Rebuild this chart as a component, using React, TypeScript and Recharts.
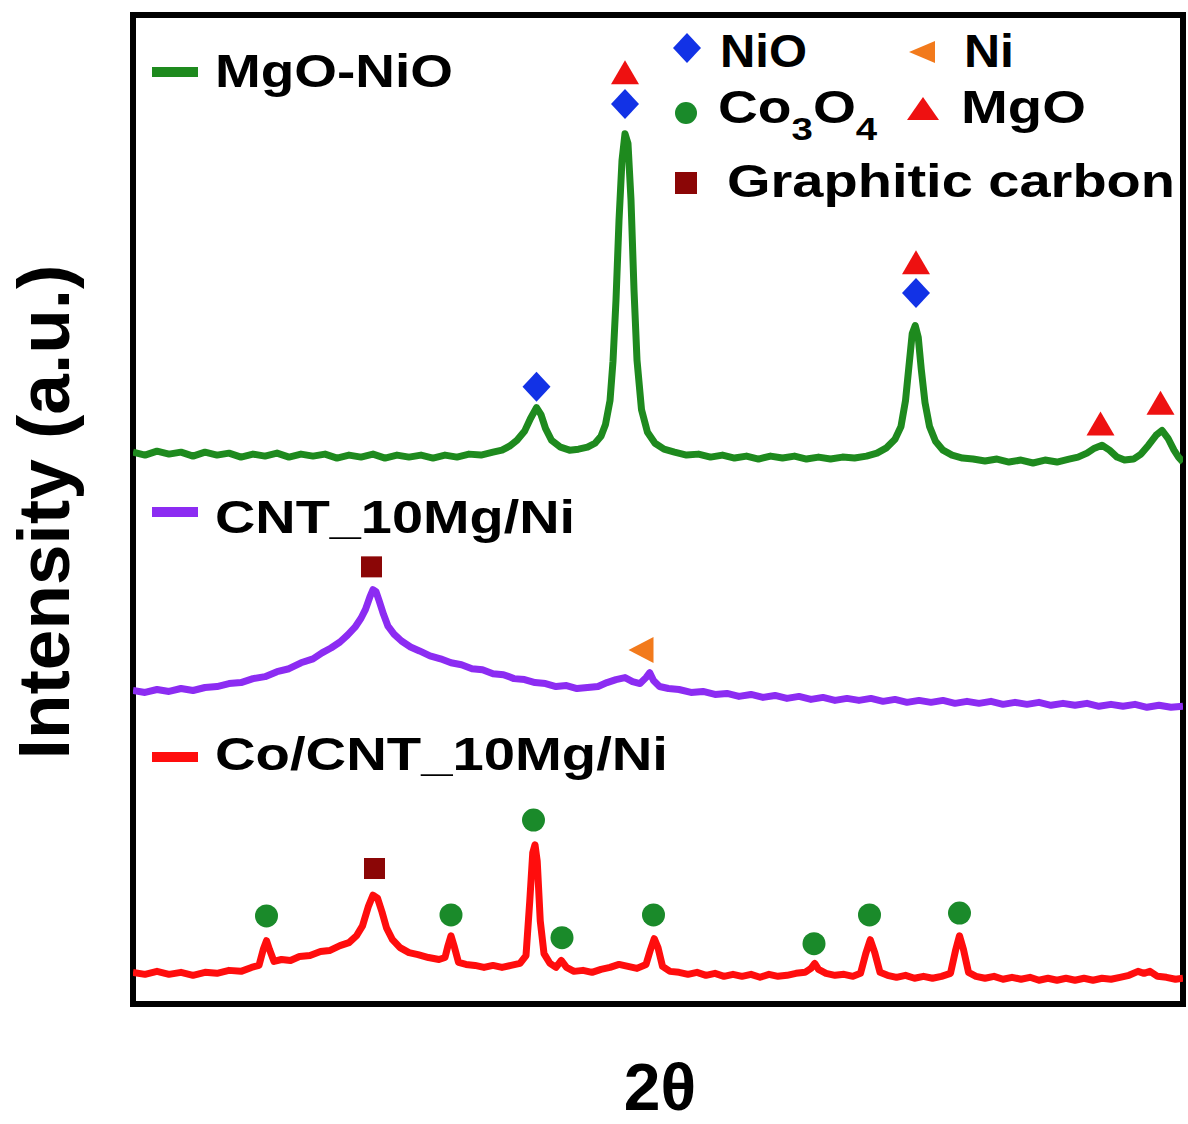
import { ComposedChart, Line, Scatter, XAxis, YAxis, ReferenceArea } from 'recharts';

// 2θ (deg) / intensity (a.u., stacked offsets) pairs
const mgoNioPattern: [number, number][] = [
  [10, 55.8], [10.8, 55.5], [11.6, 55.9], [12.4, 55.6], [13.2, 55.8], [14, 55.4], [14.8, 55.8], [15.6, 55.5],
  [16.4, 55.7], [17.2, 55.3], [18, 55.6], [18.8, 55.4], [19.6, 55.7], [20.4, 55.3], [21.2, 55.6], [22, 55.4],
  [22.8, 55.6], [23.6, 55.2], [24.4, 55.5], [25.2, 55.3], [26, 55.6], [26.8, 55.2], [27.6, 55.5], [28.4, 55.3],
  [29.2, 55.5], [30, 55.2], [30.8, 55.5], [31.6, 55.3], [32.4, 55.6], [33.2, 55.5], [34, 55.8], [34.6, 56.0],
  [35.1, 56.4], [35.6, 57.0], [36.1, 57.9], [36.5, 59.2], [36.9, 60.3], [37.2, 59.6], [37.5, 58.2], [37.9, 57.0],
  [38.5, 56.3], [39.1, 56.0], [39.7, 56.1], [40.3, 56.3], [40.8, 56.7], [41.2, 57.4], [41.5, 58.6], [41.8, 61.0],
  [42.0, 65.0], [42.2, 71.2], [42.4, 79.2], [42.6, 85.3], [42.8, 88.0], [43.0, 87.0], [43.2, 81.3], [43.4, 72.2],
  [43.6, 65.1], [43.9, 60.1], [44.3, 57.8], [44.8, 56.7], [45.4, 56.1], [46.1, 55.8], [46.9, 55.5], [47.7, 55.6],
  [48.5, 55.3], [49.3, 55.5], [50.1, 55.2], [50.9, 55.4], [51.7, 55.1], [52.5, 55.4], [53.3, 55.2], [54.1, 55.4],
  [54.9, 55.1], [55.7, 55.3], [56.5, 55.1], [57.3, 55.3], [58.1, 55.2], [58.9, 55.4], [59.6, 55.7], [60.2, 56.2],
  [60.8, 57.1], [61.2, 58.4], [61.5, 61.0], [61.75, 64.8], [61.95, 67.8], [62.15, 68.6], [62.35, 67.4], [62.55, 64.2],
  [62.8, 60.8], [63.1, 58.4], [63.5, 56.9], [64.0, 56.0], [64.6, 55.5], [65.3, 55.2], [66, 55.1], [66.8, 54.9],
  [67.6, 55.1], [68.4, 54.8], [69.2, 55.0], [70, 54.7], [70.8, 55.0], [71.6, 54.8], [72.4, 55.1], [73.0, 55.3],
  [73.6, 55.7], [74.1, 56.2], [74.6, 56.5], [75.1, 56.0], [75.6, 55.3], [76.1, 55.0], [76.7, 55.1], [77.2, 55.6],
  [77.7, 56.5], [78.2, 57.5], [78.6, 58.0], [79.0, 57.2], [79.4, 56.0], [79.7, 55.3], [80, 54.8],
];

const cntPattern: [number, number][] = [
  [10, 31.7], [10.8, 31.5], [11.6, 31.8], [12.4, 31.6], [13.2, 31.9], [14, 31.7], [14.8, 32.0], [15.6, 32.1],
  [16.4, 32.4], [17.2, 32.5], [18, 32.9], [18.8, 33.1], [19.6, 33.6], [20.4, 33.9], [21.2, 34.5], [22, 34.9],
  [22.6, 35.5], [23.2, 36.0], [23.8, 36.6], [24.3, 37.3], [24.8, 38.1], [25.2, 39.0], [25.5, 39.9], [25.8, 41.2],
  [26.0, 41.9], [26.2, 41.7], [26.4, 40.8], [26.7, 39.4], [27.0, 38.2], [27.4, 37.4], [27.9, 36.7], [28.5, 36.1],
  [29.1, 35.7], [29.8, 35.2], [30.5, 34.9], [31.2, 34.5], [31.9, 34.3], [32.6, 33.9], [33.3, 33.8], [34, 33.4],
  [34.7, 33.3], [35.4, 32.9], [36.1, 32.8], [36.8, 32.5], [37.5, 32.4], [38.2, 32.1], [38.9, 32.2], [39.6, 31.9],
  [40.3, 32.0], [41.0, 32.1], [41.6, 32.5], [42.2, 32.8], [42.8, 33.0], [43.3, 32.6], [43.8, 32.4], [44.2, 33.0],
  [44.45, 33.5], [44.7, 32.7], [45.1, 32.1], [45.7, 31.9], [46.4, 31.8], [47.2, 31.5], [48, 31.6], [48.8, 31.3],
  [49.6, 31.4], [50.4, 31.1], [51.2, 31.3], [52, 31.0], [52.8, 31.2], [53.6, 30.9], [54.4, 31.1], [55.2, 30.8],
  [56, 31.0], [56.8, 30.7], [57.6, 30.9], [58.4, 30.7], [59.2, 30.9], [60, 30.6], [60.8, 30.8], [61.6, 30.5],
  [62.4, 30.7], [63.2, 30.5], [64, 30.7], [64.8, 30.4], [65.6, 30.6], [66.4, 30.4], [67.2, 30.6], [68, 30.3],
  [68.8, 30.5], [69.6, 30.3], [70.4, 30.5], [71.2, 30.2], [72, 30.4], [72.8, 30.2], [73.6, 30.4], [74.4, 30.1],
  [75.2, 30.3], [76, 30.1], [76.8, 30.3], [77.6, 30.0], [78.4, 30.2], [79.2, 30.0], [80, 30.1],
];

const coCntPattern: [number, number][] = [
  [10, 3.2], [10.8, 3.0], [11.6, 3.3], [12.4, 3.0], [13.2, 3.2], [14, 2.9], [14.8, 3.2], [15.6, 3.1],
  [16.4, 3.4], [17.2, 3.3], [17.9, 3.7], [18.4, 3.9], [18.7, 5.6], [18.9, 6.4], [19.1, 5.5], [19.4, 4.3],
  [19.9, 4.5], [20.5, 4.4], [21.1, 4.8], [21.8, 4.9], [22.5, 5.3], [23.1, 5.4], [23.8, 5.9], [24.4, 6.2],
  [24.9, 6.9], [25.3, 7.9], [25.7, 9.9], [26.0, 11.0], [26.3, 10.7], [26.6, 9.3], [26.9, 7.7], [27.3, 6.5],
  [27.8, 5.7], [28.4, 5.2], [29.0, 5.0], [29.7, 4.7], [30.4, 4.5], [30.8, 4.7], [31.0, 5.9], [31.2, 6.9],
  [31.4, 5.9], [31.7, 4.2], [32.2, 4.0], [32.8, 3.9], [33.4, 3.7], [34, 3.9], [34.6, 3.7], [35.2, 3.9],
  [35.8, 4.1], [36.2, 4.9], [36.45, 10.4], [36.65, 15.3], [36.8, 16.1], [36.95, 14.4], [37.15, 8.4], [37.4, 5.1],
  [37.8, 4.1], [38.2, 3.7], [38.55, 4.4], [38.9, 3.7], [39.4, 3.3], [40, 3.4], [40.6, 3.2], [41.2, 3.5],
  [41.8, 3.7], [42.4, 4.0], [43, 3.8], [43.6, 3.6], [44.2, 4.0], [44.5, 5.5], [44.75, 6.6], [45.0, 5.7],
  [45.3, 3.8], [45.8, 3.3], [46.4, 3.2], [47, 3.0], [47.6, 3.2], [48.2, 2.9], [48.8, 3.1], [49.4, 2.8],
  [50, 3.0], [50.6, 2.8], [51.2, 3.0], [51.8, 2.7], [52.4, 3.0], [53, 2.8], [53.6, 2.9], [54.2, 3.1],
  [54.8, 3.2], [55.2, 3.6], [55.45, 4.1], [55.7, 3.5], [56.2, 3.1], [56.8, 2.9], [57.4, 3.0], [58, 2.8],
  [58.5, 3.1], [58.85, 5.1], [59.15, 6.5], [59.45, 5.2], [59.8, 3.2], [60.3, 2.9], [60.9, 2.7], [61.5, 2.9],
  [62.1, 2.6], [62.7, 2.8], [63.3, 2.6], [63.9, 2.8], [64.5, 3.1], [64.85, 5.5], [65.1, 6.9], [65.35, 5.6],
  [65.7, 3.2], [66.2, 2.8], [66.8, 2.6], [67.4, 2.8], [68, 2.5], [68.6, 2.7], [69.2, 2.5], [69.8, 2.7],
  [70.4, 2.4], [71, 2.6], [71.6, 2.4], [72.2, 2.6], [72.8, 2.4], [73.4, 2.6], [74, 2.4], [74.6, 2.6],
  [75.2, 2.5], [75.8, 2.7], [76.4, 2.9], [77, 3.3], [77.4, 3.1], [77.8, 3.3], [78.3, 2.8], [78.9, 2.7],
  [79.5, 2.5], [80, 2.6],
];

// phase markers (2θ, height of marker)
const nioMarks: [number, number][] = [[36.9, 62.4], [42.8, 91.0], [62.2, 71.9]];
const mgoMarks: [number, number][] = [[42.8, 94.2], [62.2, 75.0], [74.5, 58.7], [78.5, 60.8]];
const carbonMarks: [number, number][] = [[25.9, 44.2], [26.1, 13.7]];
const niMarks: [number, number][] = [[43.9, 35.8]];
const co3o4Marks: [number, number][] = [
  [18.9, 8.9], [31.2, 9.0], [36.7, 18.6], [38.6, 6.7], [44.7, 9.0], [55.4, 6.1], [59.1, 9.0], [65.1, 9.2],
];

const toPoints = (rows: [number, number][]) => rows.map(([x, v]) => ({ x, v }));

const FONT = '"Liberation Sans", Arial, Helvetica, sans-serif';

const GREEN = '#1e8a1e';
const PURPLE = '#8c2cf2';
const RED = '#ff0d0d';
const BLUE = '#1232e6';
const TRI_RED = '#ee1111';
const ORANGE = '#f27a1c';
const DARK_RED = '#8b0606';
const DOT_GREEN = '#1a8a2a';

const DiamondShape = (p: any) => (
  <polygon points={`${p.cx},${p.cy - 15} ${p.cx + 14},${p.cy} ${p.cx},${p.cy + 15} ${p.cx - 14},${p.cy}`} fill={BLUE} />
);
const TriangleShape = (p: any) => (
  <polygon points={`${p.cx},${p.cy - 12} ${p.cx + 14},${p.cy + 12} ${p.cx - 14},${p.cy + 12}`} fill={TRI_RED} />
);
const LeftTriangleShape = (p: any) => (
  <polygon points={`${p.cx - 13},${p.cy} ${p.cx + 12},${p.cy - 13} ${p.cx + 12},${p.cy + 13}`} fill={ORANGE} />
);
const SquareShape = (p: any) => <rect x={p.cx - 10.5} y={p.cy - 10.5} width={21} height={21} fill={DARK_RED} />;
const CircleShape = (p: any) => <circle cx={p.cx} cy={p.cy} r={11.5} fill={DOT_GREEN} />;

const labelStyle = { fontFamily: FONT, fontWeight: 700, fill: '#000' } as const;

const lineProps = { dataKey: 'v', type: 'linear' as const, strokeWidth: 7, strokeLinejoin: 'round' as const, dot: false, isAnimationActive: false };

export default function App() {
  return (
    <div style={{ position: 'absolute', left: 0, top: 0, width: 1188, height: 1124, background: '#fff' }}>
      <ComposedChart width={1188} height={1124} margin={{ top: 15, right: 5, bottom: 120, left: 133 }}>
        <XAxis type="number" dataKey="x" domain={[10, 80]} hide allowDataOverflow />
        <YAxis type="number" dataKey="v" domain={[0, 100]} hide allowDataOverflow />
        <Line data={toPoints(mgoNioPattern)} stroke={GREEN} {...lineProps} />
        <Line data={toPoints(cntPattern)} stroke={PURPLE} {...lineProps} />
        <Line data={toPoints(coCntPattern)} stroke={RED} {...lineProps} />
        <Scatter data={toPoints(nioMarks)} dataKey="v" shape={DiamondShape} isAnimationActive={false} />
        <Scatter data={toPoints(mgoMarks)} dataKey="v" shape={TriangleShape} isAnimationActive={false} />
        <Scatter data={toPoints(carbonMarks)} dataKey="v" shape={SquareShape} isAnimationActive={false} />
        <Scatter data={toPoints(niMarks)} dataKey="v" shape={LeftTriangleShape} isAnimationActive={false} />
        <Scatter data={toPoints(co3o4Marks)} dataKey="v" shape={CircleShape} isAnimationActive={false} />
        <ReferenceArea x1={10} x2={80} y1={0} y2={100} fill="none" fillOpacity={0} stroke="#000" strokeWidth={6} />
      </ComposedChart>

      <svg width={1188} height={1124} style={{ position: 'absolute', left: 0, top: 0, pointerEvents: 'none' }}>
        {/* sample legend */}
        <rect x={152} y={67} width={46} height={10} fill={GREEN} />
        <text x={215} y={87} fontSize={46} textLength={238} lengthAdjust="spacingAndGlyphs" style={labelStyle}>MgO-NiO</text>
        <rect x={152} y={507} width={46} height={10} fill={PURPLE} />
        <text x={215} y={533} fontSize={46} textLength={360} lengthAdjust="spacingAndGlyphs" style={labelStyle}>CNT_10Mg/Ni</text>
        <rect x={152} y={752} width={46} height={10} fill={RED} />
        <text x={215} y={770} fontSize={46} textLength={453} lengthAdjust="spacingAndGlyphs" style={labelStyle}>Co/CNT_10Mg/Ni</text>

        {/* phase legend */}
        <polygon points="687,33 701,48 687,63 673,48" fill={BLUE} />
        <text x={720} y={67} fontSize={46} textLength={87} lengthAdjust="spacingAndGlyphs" style={labelStyle}>NiO</text>
        <polygon points="909,52 935,41 935,63" fill={ORANGE} />
        <text x={964} y={67} fontSize={46} textLength={50} lengthAdjust="spacingAndGlyphs" style={labelStyle}>Ni</text>
        <circle cx={686} cy={113} r={11} fill={DOT_GREEN} />
        <g transform="translate(718,123) scale(1.2,1)">
          <text x={0} y={0} fontSize={46} style={labelStyle}>
            Co<tspan fontSize={32} dy={17}>3</tspan>
            <tspan fontSize={46} dy={-17}>O</tspan>
            <tspan fontSize={32} dy={17}>4</tspan>
          </text>
        </g>
        <polygon points="923,97 939,120 907,120" fill={TRI_RED} />
        <text x={961} y={123} fontSize={46} textLength={125} lengthAdjust="spacingAndGlyphs" style={labelStyle}>MgO</text>
        <rect x={675} y={172} width={22} height={22} fill={DARK_RED} />
        <text x={727} y={197} fontSize={46} textLength={448} lengthAdjust="spacingAndGlyphs" style={labelStyle}>Graphitic carbon</text>

        {/* axis titles */}
        <text transform="translate(69,512) rotate(-90)" textAnchor="middle" fontSize={73} style={labelStyle}>Intensity (a.u.)</text>
        <text x={660} y={1110} textAnchor="middle" fontSize={66} style={labelStyle}>2θ</text>
      </svg>
    </div>
  );
}
